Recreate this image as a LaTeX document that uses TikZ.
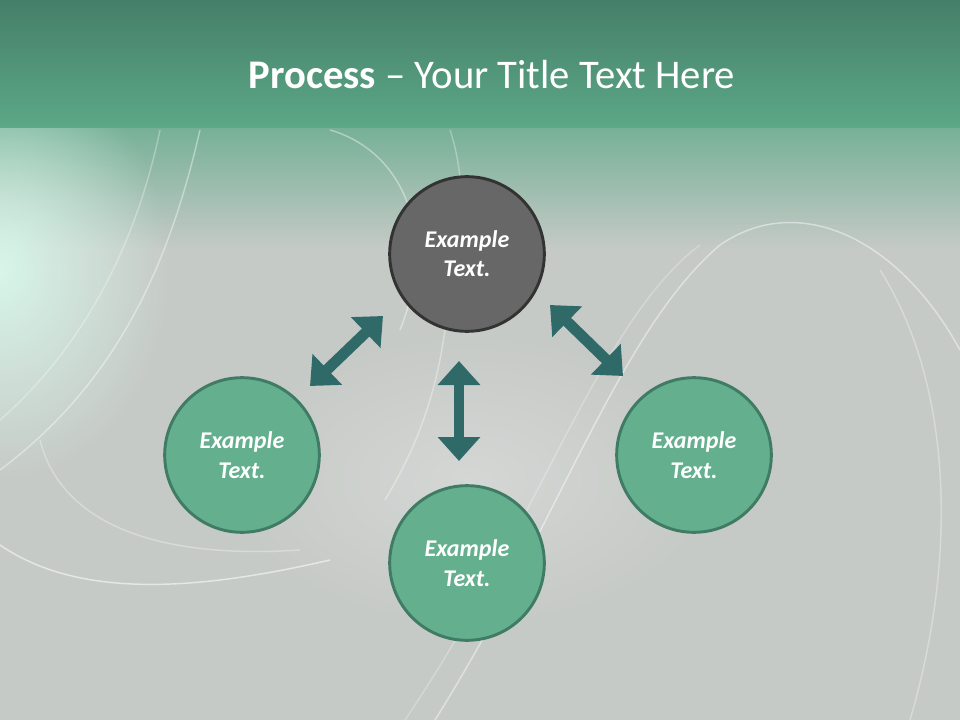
\documentclass[tikz,border=0pt]{standalone}
\usepackage{fontspec}
\setmainfont{Carlito}
\usetikzlibrary{arrows.meta,fadings}
\definecolor{hdtop}{HTML}{467F69}
\definecolor{hdbot}{HTML}{5CA887}
\definecolor{bggrey}{HTML}{C6CAC7}
\definecolor{mint}{HTML}{D8F8EA}
\definecolor{greenfill}{HTML}{63AF8E}
\definecolor{greenline}{HTML}{3F7B65}
\definecolor{greyfill}{HTML}{676767}
\definecolor{greyline}{HTML}{333333}
\definecolor{arrowcol}{HTML}{2F6A69}
\tikzfading[name=glow, inner color=transparent!0, outer color=transparent!100]
\tikzset{
  bubble/.style={circle, minimum size=116pt, line width=2.2pt, font=\bfseries\itshape\fontsize{18}{22}\selectfont, text=white, align=center, inner sep=0},
  greenbubble/.style={bubble, fill=greenfill, draw=greenline},
  greybubble/.style={bubble, fill=greyfill, draw=greyline},
  dblarrow/.style={arrowcol, line width=8.2pt, {Triangle[width=31pt, length=18pt]}-{Triangle[width=31pt, length=18pt]}},
  swoosh/.style={white, opacity=0.45, line width=1.1pt},
}
\begin{document}
\begin{tikzpicture}[x=0.75pt, y=-0.75pt]
\useasboundingbox (0,0) rectangle (960,720);
% background
\fill[bggrey] (0,128) rectangle (960,720);
\shade[top color=hdbot!75!bggrey, bottom color=bggrey] (0,128) rectangle (960,250);
\fill[mint, path fading=glow, opacity=0.95] (0,270) ellipse (170 and 210);
\fill[white, path fading=glow, opacity=0.25] (470,480) ellipse (250 and 150);
\shade[top color=hdtop, bottom color=hdbot] (0,0) rectangle (960,128);
% swooshes
\draw[swoosh] (435,720) .. controls (560,520) and (620,330) .. (720,245) .. controls (800,190) and (900,240) .. (960,350);
\draw[swoosh, opacity=0.25] (405,720) .. controls (540,520) and (600,320) .. (700,245);
\draw[swoosh, opacity=0.3] (880,270) .. controls (950,380) and (960,550) .. (910,720);
\draw[swoosh, opacity=0.55] (0,545) .. controls (80,600) and (200,590) .. (330,560);
\draw[swoosh, opacity=0.3] (40,440) .. controls (60,520) and (150,560) .. (300,550);
\draw[swoosh, opacity=0.4] (200,130) .. controls (170,260) and (120,380) .. (0,470);
\draw[swoosh, opacity=0.3] (160,130) .. controls (135,250) and (80,350) .. (0,420);
\draw[swoosh, opacity=0.4] (330,130) .. controls (400,150) and (440,230) .. (400,330);
\draw[swoosh, opacity=0.3] (450,130) .. controls (460,160) and (465,200) .. (460,260);
\draw[swoosh, opacity=0.35] (445,330) .. controls (435,400) and (415,450) .. (385,500);
% title
\node (title) at (492,75) {\color{white}\fontsize{30.5}{34}\selectfont\textbf{Process} – Your Title Text Here};
% circles
\node[greybubble] (top) at (467,254) {Example\\Text.};
\node[greenbubble] (left) at (242,455) {Example\\Text.};
\node[greenbubble] (bottom) at (467,563) {Example\\Text.};
\node[greenbubble] (right) at (694,455) {Example\\Text.};
% arrows
\coordinate (la) at (310,386);
\coordinate (lb) at (383,316);
\coordinate (ra) at (550,305);
\coordinate (rb) at (623,376);
\coordinate (va) at (459,361);
\coordinate (vb) at (459,461);
\draw[dblarrow] (la) -- (lb);
\draw[dblarrow] (ra) -- (rb);
\draw[dblarrow] (va) -- (vb);
\end{tikzpicture}
\end{document}
